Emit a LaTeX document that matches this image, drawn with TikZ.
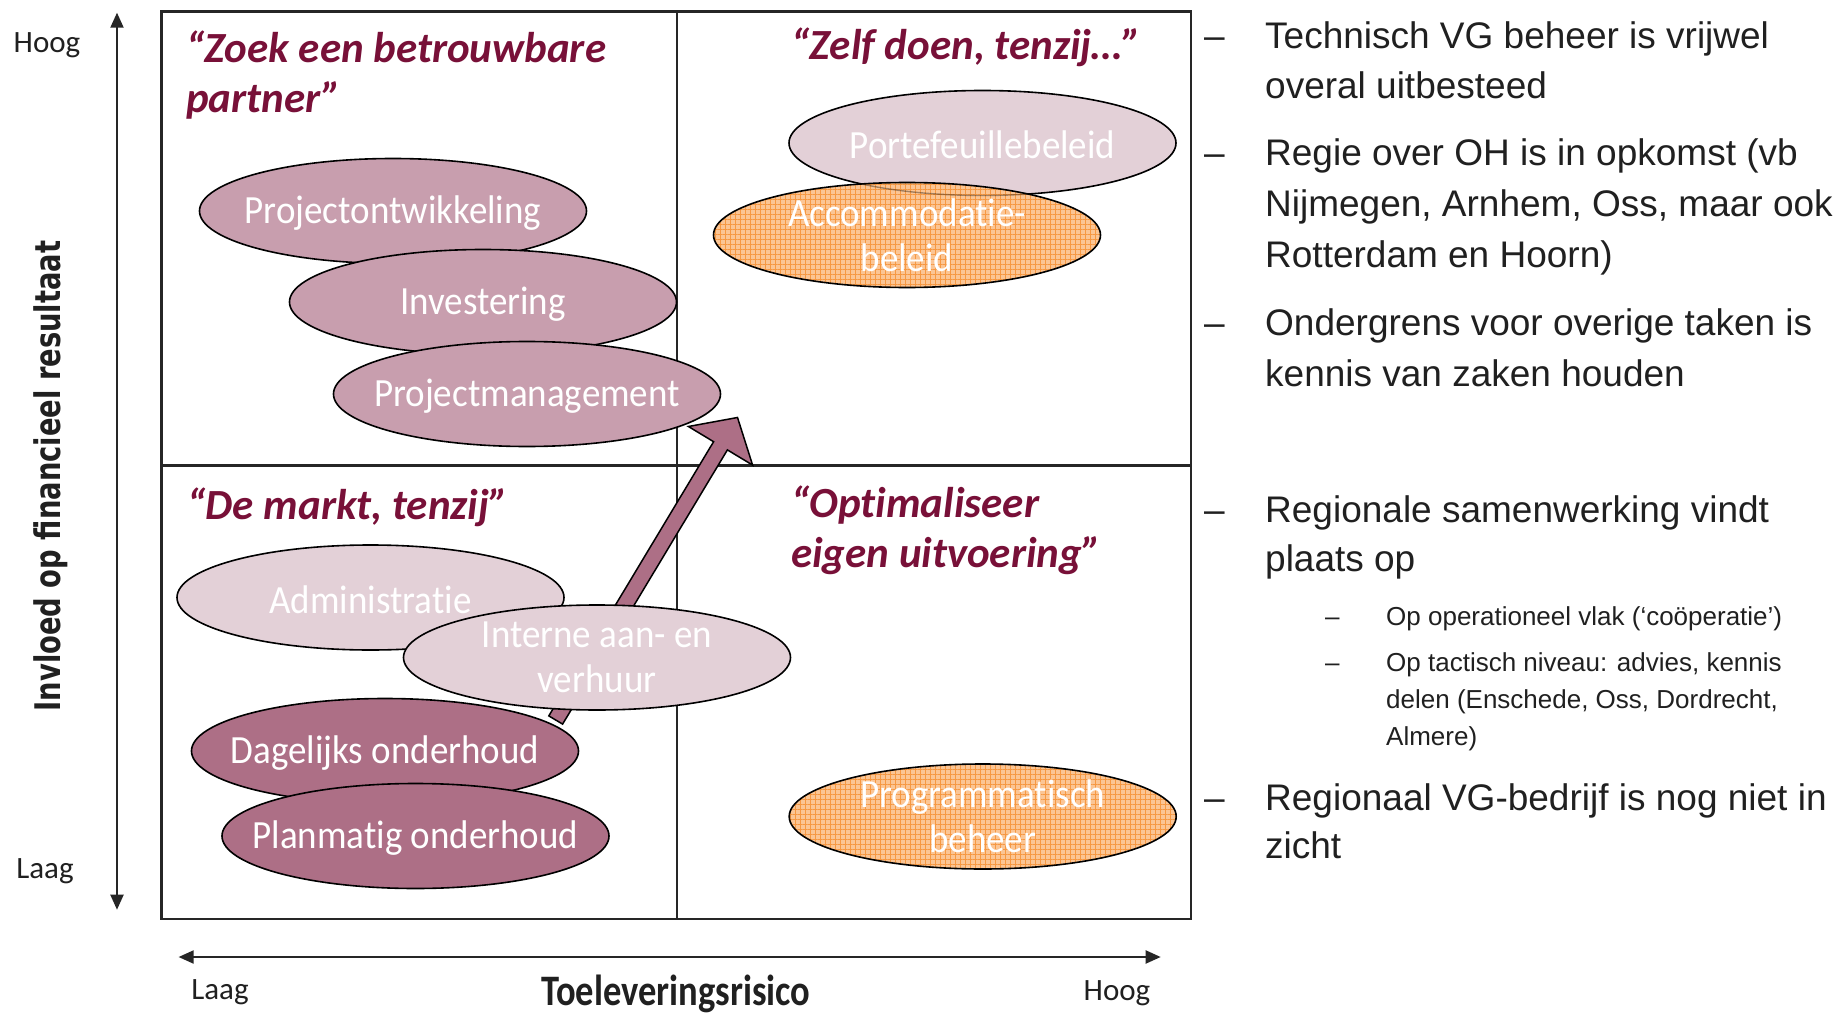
\documentclass[tikz,border=0pt]{standalone}
\usepackage{fontspec}
\setmainfont[Ligatures=NoCommon]{Carlito}
\newfontfamily\arialf{Liberation Sans}
\newfontfamily\ellf[FakeStretch=0.925,Ligatures=NoCommon]{Carlito}
\newfontfamily\xlabf[FakeStretch=0.84,Ligatures=NoCommon]{Carlito}
\newfontfamily\ylabf[FakeStretch=0.775]{DejaVu Sans}
\usetikzlibrary{shapes.geometric,arrows.meta,patterns.meta}
\definecolor{mauveM}{RGB}{200,158,174}
\definecolor{mauveL}{RGB}{227,208,215}
\definecolor{mauveD}{RGB}{173,111,134}
\definecolor{orangeF}{RGB}{251,197,148}
\definecolor{orangeG}{RGB}{246,152,66}
\definecolor{titlecol}{RGB}{120,16,56}
\definecolor{inkcol}{RGB}{32,32,32}
\definecolor{linecol}{RGB}{38,38,38}
\newcommand{\myEllFont}{\ellf\fontsize{40}{44.6}\selectfont}
\newcommand{\myTitleFont}{\fontsize{43}{50}\selectfont\bfseries\itshape}
\newcommand{\myRFont}{\arialf\fontsize{37}{50}\selectfont}
\newcommand{\mySFont}{\arialf\fontsize{26}{36}\selectfont}
\newcommand{\myAxFont}{\fontsize{31}{36}\selectfont}
\begin{document}
\begin{tikzpicture}[x=1pt,y=-1pt,
  ell/.style={ellipse, draw=black, line width=1.6pt, minimum width=387pt, minimum height=105pt, inner sep=0pt},
  ellM/.style={ell, fill=mauveM},
  ellL/.style={ell, fill=mauveL},
  ellD/.style={ell, fill=mauveD},
  ellO/.style={ellipse, minimum width=387pt, minimum height=105pt, inner sep=0pt, fill=orangeF,
     postaction={pattern={Lines[distance=5pt,angle=0,line width=0.9pt]}, pattern color=orangeG},
     postaction={pattern={Lines[distance=5pt,angle=90,line width=0.9pt]}, pattern color=orangeG},
     postaction={draw=black, line width=1.6pt}},
  etext/.style={text=white, font=\myEllFont, align=center, inner sep=0pt},
  etextone/.style={etext, yshift=-2pt},
  qtitle/.style={anchor=base west, text=titlecol, font=\myTitleFont, inner sep=0pt},
  rtext/.style={anchor=base west, text=inkcol, font=\myRFont, inner sep=0pt},
  stext/.style={anchor=base west, text=inkcol, font=\mySFont, inner sep=0pt},
  axlab/.style={anchor=base, text=inkcol, font=\myAxFont, inner sep=0pt},
  axis/.style={linecol, line width=2pt, {Triangle[length=15pt,width=13pt]}-{Triangle[length=15pt,width=13pt]}}
]
\useasboundingbox (0,0) rectangle (1840,1014);
\clip (0,0) rectangle (1840,1014);
\fill[white] (0,0) rectangle (1840,1014);

% quadrant frame
\draw[linecol, line width=2.4pt] (161.6,11.7) rectangle (1191,919);
\draw[linecol, line width=1.8pt] (677,11.7) -- (677,919);
\draw[linecol, line width=3pt] (161.6,465) -- (1191,465);

% axes
\coordinate (vtop) at (117,12.7);
\coordinate (vbot) at (117,909.7);
\coordinate (hleft) at (178.6,957);
\coordinate (hright) at (1160.7,957);
\draw[axis] (vbot) -- (vtop);
\draw[axis] (hleft) -- (hright);

\node[axlab] (hoogL) at (47,53) {Hoog};
\node[axlab] (laagL) at (45,878) {Laag};
\node[axlab] (laagB) at (220,999) {Laag};
\node[axlab] (hoogB) at (1117,1000) {Hoog};
\node[anchor=base, rotate=90, text=inkcol, inner sep=0pt, font=\ylabf\bfseries\fontsize{35.3}{38}\selectfont] (ylab) at (60.5,476) {Invloed op financieel resultaat};
\node[anchor=base, text=inkcol, inner sep=0pt, font=\xlabf\bfseries\fontsize{43.5}{46}\selectfont] (xlab) at (676,1005) {Toeleveringsrisico};

% block arrow
\fill[mauveD, draw=black, line width=1.5pt, line join=miter]
  (548.8,715.9) -- (713.6,441.7) -- (688.4,426.5) -- (737.5,417.5) -- (752.6,465.1) -- (727.4,449.9) -- (562.6,724.1) -- cycle;

% ellipses
\node[ellM] (po) at (393,211) {};
\node[ellM] (inv) at (483,302) {};
\node[ellM] (pm) at (527,394) {};
\node[ellL] (port) at (982.5,143) {};
\node[ellO] (acc) at (907,235) {};
\begin{scope}
  \clip (907,235) ellipse [x radius=193.5, y radius=52.5];
  \draw[black, opacity=0.35, line width=1.4pt] (982.5,143) ellipse [x radius=193.5, y radius=52.5];
\end{scope}
\node[ellL] (adm) at (370.5,597.5) {};
\node[ellL] (int) at (597,657.5) {};
\node[ellD] (dag) at (385,751) {};
\node[ellD] (plan) at (415.5,836) {};
\node[ellO] (prog) at (982.7,816.5) {};

\node[etextone] (po-t) at (po) {Projectontwikkeling};
\node[etextone] (inv-t) at (inv) {Investering};
\node[etextone] (pm-t) at (pm) {Projectmanagement};
\node[etextone] (port-t) at (port) {Portefeuillebeleid};
\node[etext] (acc-t) at (acc) {Accommodatie-\\beleid};
\node[etextone] (adm-t) at (adm) {Administratie};
\node[etext] (int-t) at (int) {Interne aan- en\\verhuur};
\node[etextone] (dag-t) at (dag) {Dagelijks onderhoud};
\node[etextone] (plan-t) at (plan) {Planmatig onderhoud};
\node[etext] (prog-t) at (prog) {Programmatisch\\beheer};

% quadrant titles
\node[qtitle] (q1a) at (186,63) {“Zoek een betrouwbare};
\node[qtitle] (q1b) at (186,113) {partner”};
\node[qtitle] (q2) at (791,60) {“Zelf doen, tenzij…”};
\node[qtitle] (q3) at (187,519.5) {“De markt, tenzij”};
\node[qtitle] (q4a) at (791,517) {“Optimaliseer};
\node[qtitle] (q4b) at (791,567) {eigen uitvoering”};

% right text
\node[rtext] (d1) at (1204,48.5) {–};
\node[rtext] (r1) at (1265,48.5) {Technisch VG beheer is vrijwel};
\node[rtext] (r2) at (1265,98.5) {overal uitbesteed};
\node[rtext] (d2) at (1204,166) {–};
\node[rtext] (r3) at (1265,166) {Regie over OH is in opkomst (vb};
\node[rtext] (r4) at (1265,216.5) {Nijmegen, Arnhem, Oss, maar ook};
\node[rtext] (r5) at (1265,267) {Rotterdam en Hoorn)};
\node[rtext] (d3) at (1204,335.5) {–};
\node[rtext] (r6) at (1265,335.5) {Ondergrens voor overige taken is};
\node[rtext] (r7) at (1265,386) {kennis van zaken houden};
\node[rtext] (d4) at (1204,522) {–};
\node[rtext] (r8) at (1265,522) {Regionale samenwerking vindt};
\node[rtext] (r9) at (1265,571) {plaats op};
\node[stext] (sd1) at (1325,625) {–};
\node[stext] (s1) at (1386,625) {Op operationeel vlak (‘coöperatie’)};
\node[stext] (sd2) at (1325,671.5) {–};
\node[stext] (s2) at (1386,671.5) {Op tactisch niveau: advies, kennis};
\node[stext] (s3) at (1386,708) {delen (Enschede, Oss, Dordrecht,};
\node[stext] (s4) at (1386,745) {Almere)};
\node[rtext] (d5) at (1204,810) {–};
\node[rtext] (r10) at (1265,810) {Regionaal VG-bedrijf is nog niet in};
\node[rtext] (r11) at (1265,858) {zicht};
\end{tikzpicture}
\end{document}
